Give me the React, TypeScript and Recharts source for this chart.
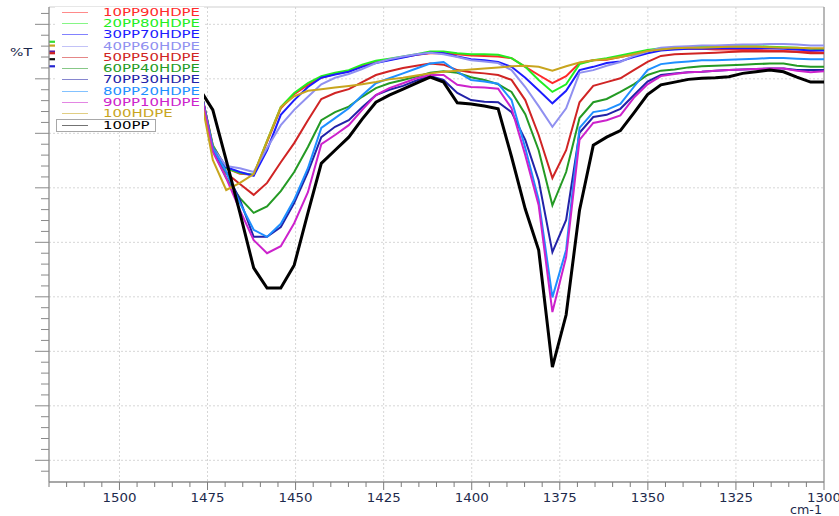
import React from 'react';
import { LineChart, Line, XAxis, YAxis, CartesianGrid, Legend, ReferenceLine } from 'recharts';

// Wavenumbers (cm-1), high to low
const wavenumbers = [1477.4, 1473.5, 1469.7, 1465.8, 1461.9, 1458.1, 1454.2, 1450.4, 1446.5, 1442.7, 1438.8, 1434.9, 1431.1, 1427.2, 1423.4, 1419.5, 1415.7, 1411.8, 1408.0, 1404.1, 1400.2, 1396.4, 1392.5, 1388.7, 1384.8, 1381.0, 1377.1, 1373.2, 1369.4, 1365.5, 1361.7, 1357.8, 1354.0, 1350.1, 1346.3, 1342.4, 1338.5, 1334.7, 1330.8, 1327.0, 1323.1, 1319.3, 1315.4, 1311.5, 1307.7, 1303.8, 1300.0];

// %T values per blend
const pp10hdpe90 = [79.4, 67.8, 63.6, 62.6, 62.4, 68.4, 74.6, 77.2, 78.9, 80.2, 80.9, 81.4, 82.4, 83.1, 83.5, 84.0, 84.4, 84.7, 84.7, 84.5, 84.3, 84.2, 84.1, 83.8, 82.2, 80.7, 79.2, 80.5, 82.9, 83.4, 83.5, 84.0, 84.5, 85.2, 85.4, 85.5, 85.5, 85.5, 85.4, 85.4, 85.3, 85.3, 85.2, 85.1, 85.0, 84.9, 84.8];
const pp20hdpe80 = [79.4, 67.8, 63.6, 62.7, 62.4, 68.6, 74.8, 77.4, 79.2, 80.5, 81.1, 81.6, 82.6, 83.3, 83.7, 84.1, 84.5, 85.0, 85.0, 84.7, 84.5, 84.5, 84.4, 83.8, 82.2, 79.8, 77.6, 79.0, 82.7, 83.4, 83.8, 84.3, 84.8, 85.3, 85.6, 85.7, 85.8, 85.9, 86.0, 86.0, 86.0, 86.0, 85.9, 85.8, 85.7, 85.5, 85.4];
const pp30hdpe70 = [79.4, 67.5, 63.8, 62.9, 62.2, 66.9, 73.4, 76.1, 78.5, 80.2, 80.8, 81.3, 82.2, 82.9, 83.4, 83.9, 84.4, 84.8, 84.7, 84.1, 83.6, 83.4, 83.1, 82.2, 80.2, 77.9, 75.5, 77.8, 81.6, 82.2, 82.9, 83.2, 84.0, 84.7, 85.2, 85.4, 85.5, 85.5, 85.6, 85.6, 85.6, 85.6, 85.6, 85.5, 85.4, 85.2, 85.2];
const pp40hdpe60 = [79.4, 67.3, 64.0, 63.6, 62.9, 67.3, 71.5, 74.3, 76.7, 79.0, 80.2, 80.9, 81.8, 82.9, 83.6, 84.1, 84.5, 84.8, 84.5, 84.0, 83.4, 83.2, 82.9, 81.6, 78.5, 75.0, 71.2, 74.6, 81.1, 81.6, 82.4, 83.1, 84.2, 85.0, 85.7, 85.9, 86.0, 86.1, 86.1, 86.2, 86.3, 86.3, 86.4, 86.4, 86.3, 86.1, 86.1];
const pp50hdpe50 = [79.4, 67.3, 62.7, 60.7, 58.7, 60.9, 64.7, 68.2, 72.4, 76.3, 77.4, 78.1, 79.4, 80.7, 81.4, 82.0, 82.4, 82.8, 82.6, 81.6, 81.2, 81.0, 80.7, 79.8, 76.1, 69.7, 61.8, 66.9, 75.7, 78.7, 79.4, 80.1, 81.6, 83.1, 84.2, 84.5, 84.6, 84.7, 84.8, 84.9, 85.0, 85.0, 85.0, 85.0, 84.9, 84.7, 84.7];
const pp60hdpe40 = [79.4, 66.9, 61.8, 58.1, 55.4, 56.6, 59.4, 62.9, 67.5, 72.4, 73.9, 74.9, 76.7, 78.3, 79.2, 79.8, 80.4, 81.1, 81.4, 81.1, 80.3, 79.8, 79.0, 77.6, 73.5, 66.9, 56.8, 62.9, 72.8, 75.7, 76.3, 77.6, 79.0, 80.7, 81.5, 81.7, 82.1, 82.3, 82.4, 82.5, 82.6, 82.7, 82.8, 82.8, 82.4, 82.2, 82.2];
const pp70hdpe30 = [79.4, 66.9, 62.9, 57.8, 51.0, 51.0, 52.8, 57.2, 62.9, 69.3, 71.2, 72.4, 74.8, 77.0, 78.0, 78.7, 79.7, 80.5, 79.8, 77.4, 76.1, 75.8, 75.7, 73.9, 68.8, 61.4, 48.2, 54.1, 70.1, 73.0, 73.4, 74.5, 77.0, 79.5, 80.7, 81.0, 81.2, 81.3, 81.5, 81.6, 81.7, 81.8, 81.9, 81.9, 81.6, 81.6, 81.6];
const pp80hdpe20 = [79.4, 67.3, 62.9, 57.2, 52.3, 51.0, 53.4, 57.8, 63.6, 71.0, 72.8, 74.6, 77.0, 79.2, 80.1, 81.0, 81.9, 82.8, 83.1, 81.3, 79.8, 79.5, 79.1, 76.1, 67.3, 57.8, 39.9, 48.6, 71.0, 73.9, 74.3, 75.4, 78.5, 81.6, 82.7, 83.0, 83.2, 83.4, 83.4, 83.5, 83.6, 83.7, 83.8, 83.8, 83.7, 83.6, 83.6];
const pp90hdpe10 = [79.4, 66.6, 61.8, 55.9, 50.4, 48.0, 49.3, 53.5, 59.2, 68.0, 69.7, 71.5, 74.3, 77.0, 78.3, 79.2, 80.1, 80.7, 80.7, 78.9, 78.5, 78.4, 78.2, 74.6, 66.0, 56.8, 37.2, 47.3, 68.8, 71.9, 72.4, 73.3, 76.5, 79.0, 80.5, 80.9, 81.2, 81.3, 81.5, 81.6, 81.7, 81.8, 81.9, 81.9, 81.5, 81.2, 81.4];
const hdpe100 = [78.3, 65.1, 59.6, 60.9, 62.5, 68.6, 74.8, 76.8, 77.8, 78.1, 78.4, 78.7, 79.0, 79.4, 79.9, 80.2, 80.6, 81.0, 81.3, 81.5, 81.7, 81.9, 82.1, 82.3, 82.4, 82.2, 81.5, 82.3, 83.0, 83.4, 83.6, 84.0, 84.5, 85.1, 85.4, 85.6, 85.7, 85.7, 85.8, 85.9, 85.9, 85.9, 85.8, 85.7, 85.7, 85.6, 85.6];
const pp100 = [78.3, 74.3, 65.1, 55.4, 45.3, 41.6, 41.6, 45.8, 55.4, 64.5, 66.9, 69.3, 72.6, 75.7, 77.0, 78.1, 79.2, 80.3, 79.4, 75.6, 75.4, 75.0, 74.5, 65.7, 56.1, 48.6, 27.1, 36.7, 55.9, 67.8, 69.3, 70.5, 73.7, 77.1, 78.9, 79.4, 79.9, 80.1, 80.2, 80.4, 81.0, 81.3, 81.6, 81.3, 80.3, 79.4, 79.4];

const seriesNames = ['10PP90HDPE', '20PP80HDPE', '30PP70HDPE', '40PP60HDPE', '50PP50HDPE', '60PP40HDPE', '70PP30HDPE', '80PP20HDPE', '90PP10HDPE', '100HDPE', '100PP'];
const seriesValues = [pp10hdpe90, pp20hdpe80, pp30hdpe70, pp40hdpe60, pp50hdpe50, pp60hdpe40, pp70hdpe30, pp80hdpe20, pp90hdpe10, hdpe100, pp100];
const seriesColors = ['#ff2a2a', '#22ee22', '#1c1cff', '#9090f0', '#d02424', '#249a24', '#2222a8', '#1e8fff', '#cc22cc', '#c8a51e', '#000000'];

// Axis ticks
const xMajorTicks = [1500, 1475, 1450, 1425, 1400, 1375, 1350, 1325, 1300];
const xAllTicks = [1520, 1515, 1510, 1505, 1500, 1495, 1490, 1485, 1480, 1475, 1470, 1465, 1460, 1455, 1450, 1445, 1440, 1435, 1430, 1425, 1420, 1415, 1410, 1405, 1400, 1395, 1390, 1385, 1380, 1375, 1370, 1365, 1360, 1355, 1350, 1345, 1340, 1335, 1330, 1325, 1320, 1315, 1310, 1305, 1300];
const xGridValues = [1500, 1475, 1450, 1425, 1400, 1375, 1350, 1325];
const yMajorTicks = [10, 20, 30, 40, 50, 60, 70, 80, 90];
const yAllTicks = [8, 10, 12, 14, 16, 18, 20, 22, 24, 26, 28, 30, 32, 34, 36, 38, 40, 42, 44, 46, 48, 50, 52, 54, 56, 58, 60, 62, 64, 66, 68, 70, 72, 74, 76, 78, 80, 82, 84, 86, 88, 90, 92];
const yMin = 6.02;
const yMax = 93.18;

// small colored markers at the left axis
const axisMarkerValues = [86.8, 86.1, 85.0, 84.7, 83.6, 82.3];
const axisMarkerColors = ['#33dd33', '#c8a020', '#5a1ca0', '#d02020', '#111111', '#2424d0'];

const data = wavenumbers.map((wn, i) => {
  const row: Record<string, number> = { wn };
  seriesNames.forEach((name, s) => {
    row[name] = seriesValues[s][i];
  });
  return row;
});

const FONT = '"DejaVu Sans", Verdana, sans-serif';

const XTick = (props: any) => {
  const { x, y, payload } = props;
  const major = xMajorTicks.includes(payload.value);
  return (
    <g>
      <line x1={x} x2={x} y1={y} y2={y + (major ? 8 : 5)} stroke="#7c7c7c" strokeWidth={1} />
      {major && (
        <text
          x={x}
          y={y + 20}
          textAnchor="middle"
          fontFamily={FONT}
          fontSize={12.5}
          fill="#1d2a4c"
          textLength={34}
          lengthAdjust="spacingAndGlyphs"
        >
          {payload.value}
        </text>
      )}
    </g>
  );
};

const YTick = (props: any) => {
  const { x, y, payload } = props;
  const major = yMajorTicks.includes(payload.value);
  return <line x1={x - (major ? 14 : 8)} x2={x} y1={y} y2={y} stroke="#8a8a8a" strokeWidth={1} />;
};

const YLabel = (props: any) => {
  const vb = props.viewBox || { x: 9, y: 7 };
  return (
    <text x={vb.x + 1} y={vb.y + 49} fontFamily={FONT} fontSize={11} fill="#1d2a4c" textLength={22} lengthAdjust="spacingAndGlyphs">
      %T
    </text>
  );
};

const XLabel = (props: any) => {
  const vb = props.viewBox || { x: 49, y: 482, width: 775 };
  return (
    <text x={vb.x + vb.width - 2} y={vb.y + 32} textAnchor="end" fontFamily={FONT} fontSize={11.5} fill="#1d2a4c" textLength={32} lengthAdjust="spacingAndGlyphs">
      cm-1
    </text>
  );
};

const LegendBox = () => (
  <div style={{ position: 'relative', width: 149, height: 124, background: '#ffffff' }}>
    {seriesNames.map((name, i) => {
      const cy = 5.3 + i * 11.27;
      return (
        <React.Fragment key={name}>
          <div style={{ position: 'absolute', left: 7, top: cy - 0.5, width: 26, height: 1, background: seriesColors[i], opacity: 0.55 }} />
          <div
            style={{
              position: 'absolute',
              left: 48,
              top: cy - 5.5,
              height: 11,
              fontFamily: FONT,
              fontSize: 10.5,
              lineHeight: '11px',
              color: seriesColors[i],
              transform: 'scaleX(1.42)',
              transformOrigin: 'left center',
              whiteSpace: 'nowrap',
            }}
          >
            {name}
          </div>
        </React.Fragment>
      );
    })}
    <div style={{ position: 'absolute', left: 1, top: 112, width: 98, height: 11, border: '1px solid #a8a8a8' }} />
  </div>
);

export default function App() {
  return (
    <div style={{ position: 'absolute', left: 0, top: 0, width: 839, height: 516, background: '#ffffff' }}>
      <LineChart width={839} height={516} data={data} margin={{ top: 7, right: 15, bottom: 4, left: 9 }}>
        <CartesianGrid
          stroke="#d6d6d6"
          strokeDasharray="2 2"
          horizontalValues={yMajorTicks}
          verticalValues={xGridValues}
        />
        <XAxis
          dataKey="wn"
          type="number"
          domain={[1300, 1520]}
          reversed
          allowDataOverflow
          ticks={xAllTicks}
          interval={0}
          tick={<XTick />}
          tickLine={false}
          tickSize={0}
          tickMargin={0}
          height={30}
          axisLine={{ stroke: '#8a8a8a', strokeWidth: 1.3 }}
          label={<XLabel />}
        />
        <YAxis
          type="number"
          domain={[yMin, yMax]}
          allowDataOverflow
          ticks={yAllTicks}
          interval={0}
          tick={<YTick />}
          tickLine={false}
          tickSize={0}
          tickMargin={0}
          width={40}
          axisLine={{ stroke: '#8a8a8a', strokeWidth: 1.3 }}
          label={<YLabel />}
        />
        <ReferenceLine y={yMax} stroke="#cfcfcf" strokeWidth={1} />
        <ReferenceLine x={1300} stroke="#a0a0a0" strokeWidth={1.5} />
        {axisMarkerValues.map((v, i) => (
          <ReferenceLine
            key={'m' + i}
            segment={[{ x: 1520, y: v }, { x: 1518.2, y: v }]}
            stroke={axisMarkerColors[i]}
            strokeWidth={2.2}
          />
        ))}
        {seriesNames.map((name, i) => (
          <Line
            key={name}
            type="linear"
            dataKey={name}
            stroke={seriesColors[i]}
            strokeWidth={name === '100PP' ? 3 : 2}
            dot={false}
            activeDot={false}
            isAnimationActive={false}
          />
        ))}
        <Legend
          content={<LegendBox />}
          layout="vertical"
          align="center"
          verticalAlign="middle"
          wrapperStyle={{ left: 55, top: 7, width: 149, height: 124 }}
        />
      </LineChart>
    </div>
  );
}
